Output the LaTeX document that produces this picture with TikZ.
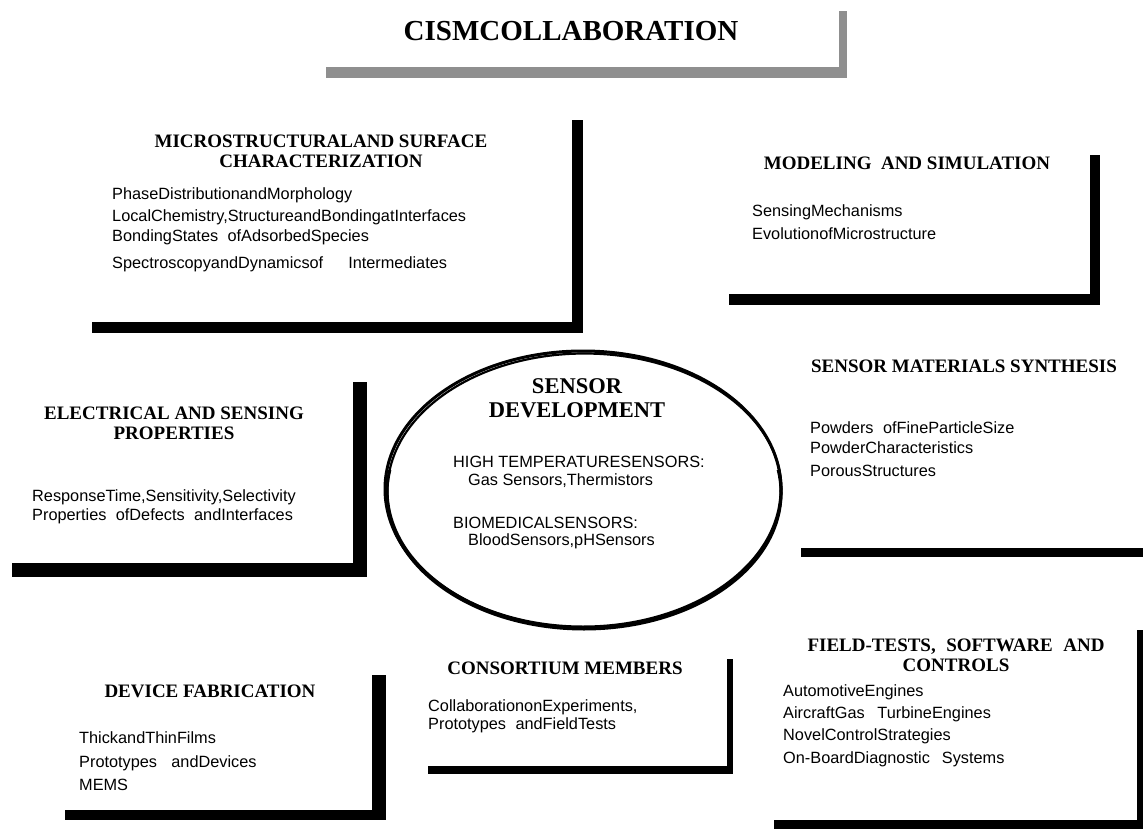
\documentclass[tikz,border=0pt]{standalone}
\usepackage{fontspec}
\setmainfont{Liberation Serif}
\newfontfamily\sansf{Liberation Sans}
\definecolor{barGrey}{HTML}{8F8F8F}
\tikzset{
  bar/.style={fill=black, draw=none},
  gbar/.style={fill=barGrey, draw=none},
  item/.style={anchor=base west, inner sep=0pt, font=\sansf\fontsize{16.3}{19}\selectfont},
  head/.style={anchor=base, inner sep=0pt, font=\bfseries\fontsize{19}{22}\selectfont},
  ehead/.style={anchor=base, inner sep=0pt, font=\bfseries\fontsize{22.5}{24}\selectfont},
  ttl/.style={anchor=base, inner sep=0pt, font=\bfseries\fontsize{29}{32}\selectfont},
  rim/.style={draw=black, line width=#1},
}
\begin{document}
\begin{tikzpicture}[x=1pt, y=-1pt]
\useasboundingbox (0,0) rectangle (1143,829);
% title
\fill[gbar] (326,67) rectangle (847,78);
\fill[gbar] (839,11) rectangle (847,78);
\node[ttl] (title) at (571,41) {CISMCOLLABORATION};

% microstructural
\fill[bar] (572,120) rectangle (583,333);
\fill[bar] (92,322) rectangle (583,333);
\node[head] (msh1) at (321,148) {MICROSTRUCTURALAND SURFACE};
\node[head] (msh2) at (321,168) {CHARACTERIZATION};
\node[item] (ms1) at (112,200) {PhaseDistributionandMorphology};
\node[item] (ms2) at (112,222) {LocalChemistry,StructureandBondingatInterfaces};
\node[item] (ms3) at (112,241) {BondingStates\hspace{0.3em} ofAdsorbedSpecies};
\node[item] (ms4) at (112,268) {SpectroscopyandDynamicsof\hspace{25pt}Intermediates};

% modeling
\fill[bar] (1090,155) rectangle (1100,305);
\fill[bar] (729,294) rectangle (1100,305);
\node[head] (mdh) at (907,170) {MODELING\hspace{0.25em} AND SIMULATION};
\node[item] (md1) at (752,217) {SensingMechanisms};
\node[item] (md2) at (752,240) {EvolutionofMicrostructure};

% electrical
\fill[bar] (353,382) rectangle (367,577);
\fill[bar] (12,563) rectangle (367,577);
\node[head] (elh1) at (174,419) {ELECTRICAL AND SENSING};
\node[head] (elh2) at (174,439) {PROPERTIES};
\node[item] (el1) at (32,501) {ResponseTime,Sensitivity,Selectivity};
\node[item] (el2) at (32,520) {Properties\hspace{0.3em} ofDefects\hspace{0.3em} andInterfaces};

% synthesis
\fill[bar] (801,548) rectangle (1143,557);
\node[head] (syh) at (964,372) {SENSOR MATERIALS SYNTHESIS};
\node[item] (sy1) at (810,433) {Powders\hspace{0.3em} ofFineParticleSize};
\node[item] (sy2) at (810,453) {PowderCharacteristics};
\node[item] (sy3) at (810,476) {PorousStructures};

% device
\fill[bar] (372,675) rectangle (386,820);
\fill[bar] (65,810) rectangle (386,820);
\node[head] (dvh) at (210,697) {DEVICE FABRICATION};
\node[item] (dv1) at (79,743) {ThickandThinFilms};
\node[item] (dv2) at (79,767) {Prototypes\hspace{0.6em} andDevices};
\node[item] (dv3) at (79,790) {MEMS};

% consortium
\fill[bar] (727,659) rectangle (733,774);
\fill[bar] (428,766) rectangle (733,774);
\node[head] (csh) at (565,674) {CONSORTIUM MEMBERS};
\node[item] (cs1) at (428,711) {CollaborationonExperiments,};
\node[item] (cs2) at (428,729) {Prototypes\hspace{0.3em} andFieldTests};

% field tests
\fill[bar] (1137,630) rectangle (1143,829);
\fill[bar] (774,820) rectangle (1143,829);
\node[head] (fth1) at (956,651) {FIELD-TESTS,\hspace{0.3em} SOFTWARE\hspace{0.3em} AND};
\node[head] (fth2) at (956,671) {CONTROLS};
\node[item] (ft1) at (783,696) {AutomotiveEngines};
\node[item] (ft2) at (783,718) {AircraftGas\hspace{0.5em} TurbineEngines};
\node[item] (ft3) at (783,740) {NovelControlStrategies};
\node[item] (ft4) at (783,763) {On-BoardDiagnostic\hspace{12pt}Systems};

% central ellipse (hand-drawn look: overlapping strokes)
\draw[rim=3pt] (583,489) ellipse [x radius=198, y radius=138];
\draw[rim=2.2pt] (584.5,490.5) ellipse [x radius=197, y radius=137];
\begin{scope}
  \clip (370,470) rectangle (800,650);
  \draw[rim=3pt] (584,493) ellipse [x radius=197, y radius=136];
\end{scope}
\node[ehead] (sd1) at (577,393) {SENSOR};
\node[ehead] (sd2) at (577,417) {DEVELOPMENT};
\node[item] (sd3) at (453,467) {HIGH TEMPERATURESENSORS:};
\node[item] (sd4) at (468,485) {Gas Sensors,Thermistors};
\node[item] (sd5) at (453,528) {BIOMEDICALSENSORS:};
\node[item] (sd6) at (468,545) {BloodSensors,pHSensors};
\end{tikzpicture}
\end{document}
